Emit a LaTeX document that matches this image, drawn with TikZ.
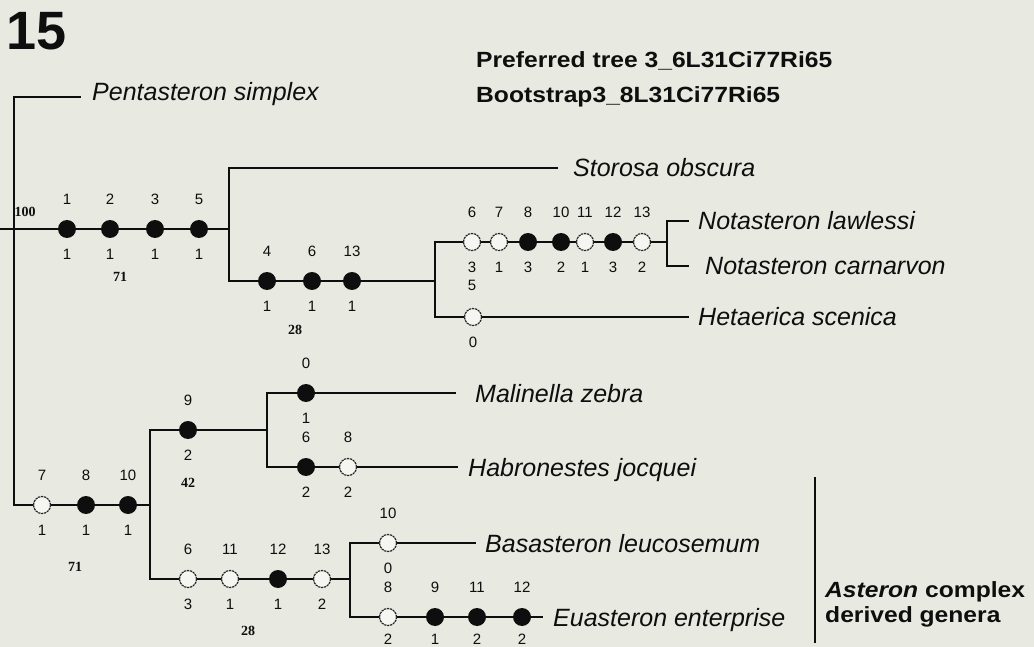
\documentclass[tikz,border=0pt]{standalone}
\usepackage{fontspec}
\setmainfont{Liberation Sans}
\newfontfamily\hdfont[FakeStretch=1.12]{Liberation Sans}
\newfontfamily\bsfont{Liberation Serif}
\definecolor{bg}{RGB}{232,233,225}
\definecolor{ink}{RGB}{14,14,14}
\newcommand\chr[6]{%
  \node[#4] (#1) at (#2,#3) {};
  \node[numlab] (#1a) at (#2,#3-30) {#5};
  \node[numlab] (#1b) at (#2,#3+25) {#6};}
\tikzset{
  br/.style={draw=ink, line width=2.6pt, line cap=rect},
  fdot/.style={circle, fill=ink, minimum size=18pt, inner sep=0pt},
  hdot/.style={circle, fill=white!55!bg, draw=ink!90, line width=1.2pt,
               dash pattern=on 2.2pt off 0.8pt, minimum size=17pt, inner sep=0pt},
  numlab/.style={inner sep=0pt, text=ink, font=\fontsize{15}{18}\selectfont},
  bslab/.style={inner sep=0pt, text=ink, font=\bsfont\bfseries\fontsize{14}{16}\selectfont},
  taxon/.style={anchor=base west, inner sep=0pt, text=ink, font=\fontsize{25}{30}\selectfont\itshape},
  head/.style={anchor=base west, inner sep=0pt, text=ink, font=\hdfont\bfseries\fontsize{22}{26}\selectfont},
}
\begin{document}
\begin{tikzpicture}[x=1pt, y=-1pt]
\useasboundingbox (0,0) rectangle (1034,647);
\fill[bg] (0,0) rectangle (1034,647);

% ---- title and header
\node[anchor=base west, inner sep=0pt, text=ink, font=\bfseries\fontsize{54}{60}\selectfont] (title) at (6,50) {15};
\node[head] (h1) at (476,68) {Preferred tree 3\_6L31Ci77Ri65};
\node[head] (h2) at (476,103) {Bootstrap3\_8L31Ci77Ri65};

% ---- coordinates of the tree
\coordinate (stub) at (0,229);
\coordinate (rA) at (14,229);
\coordinate (pentE) at (80,97);
\coordinate (rB) at (14,505);
\coordinate (aJ) at (229,229);
\coordinate (storE) at (557,168);
\coordinate (aL) at (229,281);
\coordinate (cJ) at (435,281);
\coordinate (notE) at (667,242);
\coordinate (hetS) at (435,317);
\coordinate (hetE) at (688,317);
\coordinate (lawE) at (688,221);
\coordinate (carS) at (667,266);
\coordinate (carE) at (688,266);
\coordinate (bJ) at (150,505);
\coordinate (mJ) at (267,430);
\coordinate (lsS) at (150,579);
\coordinate (eJ) at (350,579);
\coordinate (malE) at (455,393);
\coordinate (habS) at (267,467);
\coordinate (habE) at (457,467);
\coordinate (basE) at (475,543);
\coordinate (euaS) at (350,617);
\coordinate (euaE) at (542,617);
\coordinate (brT) at (815,477);
\coordinate (brB) at (815,643);

% ---- branches
\draw[br] (stub) -- (rA);
\draw[br] (pentE) -| (rB) -- (bJ);
\draw[br] (rA) -- (aJ);
\draw[br] (storE) -| (aL) -- (cJ);
\draw[br] (notE) -| (hetS) -- (hetE);
\draw[br] (lawE) -| (carS) -- (carE);
\draw[br] (mJ) -| (lsS) -- (eJ);
\draw[br] (malE) -| (habS) -- (habE);
\draw[br] (basE) -| (euaS) -- (euaE);
\draw[draw=ink, line width=2.4pt] (brT) -- (brB);

% ---- character changes
\chr{a1}{67}{229}{fdot}{1}{1}
\chr{a2}{110}{229}{fdot}{2}{1}
\chr{a3}{155}{229}{fdot}{3}{1}
\chr{a4}{199}{229}{fdot}{5}{1}

\chr{c1}{267}{281}{fdot}{4}{1}
\chr{c2}{312}{281}{fdot}{6}{1}
\chr{c3}{352}{281}{fdot}{13}{1}

\chr{n1}{472}{242}{hdot}{6}{3}
\chr{n2}{499}{242}{hdot}{7}{1}
\chr{n3}{528}{242}{fdot}{8}{3}
\chr{n4}{561}{242}{fdot}{10}{2}
\chr{n5}{585}{242}{hdot}{11}{1}
\chr{n6}{613}{242}{fdot}{12}{3}
\chr{n7}{642}{242}{hdot}{13}{2}
\node[numlab] (n1c) at (472,285) {5};

\chr{h1d}{473}{317}{hdot}{}{0}

\chr{b1}{42}{505}{hdot}{7}{1}
\chr{b2}{86}{505}{fdot}{8}{1}
\chr{b3}{128}{505}{fdot}{10}{1}

\chr{u1}{188}{430}{fdot}{9}{2}

\chr{m1}{306}{393}{fdot}{0}{1}
\chr{k1}{306}{467}{fdot}{6}{2}
\chr{k2}{348}{467}{hdot}{8}{2}

\chr{l1}{188}{579}{hdot}{6}{3}
\chr{l2}{230}{579}{hdot}{11}{1}
\chr{l3}{278}{579}{fdot}{12}{1}
\chr{l4}{322}{579}{hdot}{13}{2}

\chr{s1}{388}{543}{hdot}{10}{0}

\chr{e1}{388}{617}{hdot}{8}{}
\chr{e2}{435}{617}{fdot}{9}{}
\chr{e3}{477}{617}{fdot}{11}{}
\chr{e4}{522}{617}{fdot}{12}{}
\node[numlab] (e1c) at (388,639) {2};
\node[numlab] (e2c) at (435,639) {1};
\node[numlab] (e3c) at (477,639) {2};
\node[numlab] (e4c) at (522,639) {2};

% ---- bootstrap values
\node[bslab] (bs1) at (25,212) {100};
\node[bslab] (bs2) at (120,277) {71};
\node[bslab] (bs3) at (295,330) {28};
\node[bslab] (bs4) at (188,483) {42};
\node[bslab] (bs5) at (75,567) {71};
\node[bslab] (bs6) at (248,631) {28};

% ---- taxa
\node[taxon] (tPent) at (92,101) {Pentasteron simplex};
\node[taxon] (tStor) at (573,177) {Storosa obscura};
\node[taxon] (tLaw) at (698,230) {Notasteron lawlessi};
\node[taxon] (tCar) at (705,275) {Notasteron carnarvon};
\node[taxon] (tHet) at (698,326) {Hetaerica scenica};
\node[taxon] (tMal) at (475,402) {Malinella zebra};
\node[taxon] (tHab) at (468,476) {Habronestes jocquei};
\node[taxon] (tBas) at (485,552) {Basasteron leucosemum};
\node[taxon] (tEua) at (553,626) {Euasteron enterprise};

% ---- group label
\node[head] (g1) at (825,597) {\itshape Asteron\upshape{} complex};
\node[head] (g2) at (825,622) {derived genera};
\end{tikzpicture}
\end{document}
